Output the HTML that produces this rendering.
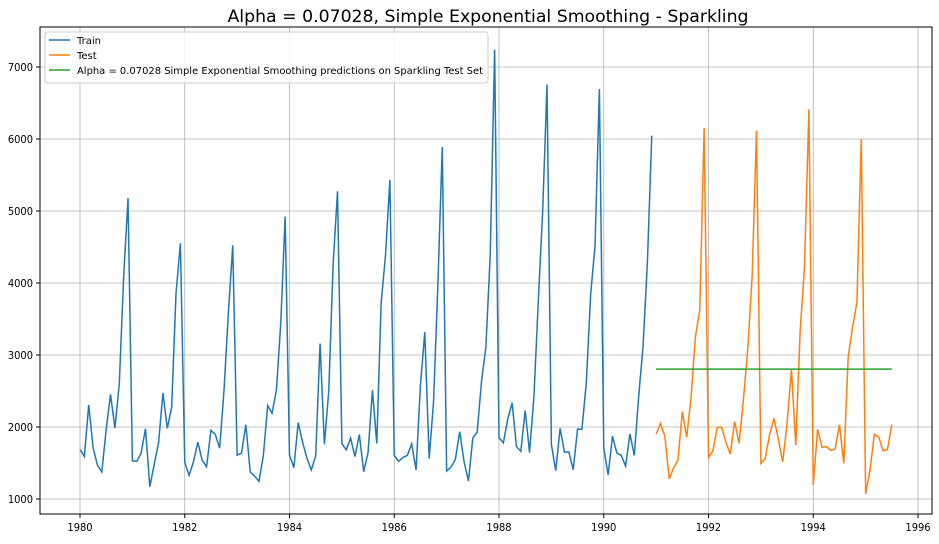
<!DOCTYPE html>
<html><head><meta charset="utf-8"><style>
body{margin:0;background:#fff;font-family:"DejaVu Sans","Liberation Sans",sans-serif;}
</style></head><body>
<svg id="chart" width="939" height="540" xmlns="http://www.w3.org/2000/svg" font-family="DejaVu Sans, Liberation Sans, sans-serif">
<rect width="939" height="540" fill="#fff"/>
<text x="488" y="22" font-size="17.3" text-anchor="middle">Alpha = 0.07028, Simple Exponential Smoothing - Sparkling</text>
<g id="grid"></g>
<g id="ticks" font-size="11" font-family="DejaVu Sans Condensed, DejaVu Sans, sans-serif"></g>
<g id="series" fill="none" stroke-width="1.5"></g>
<rect x="40" y="27" width="892" height="487" fill="none" stroke="#000" stroke-width="1"/>
<g>
<rect x="45" y="32" width="443" height="51" rx="3" fill="#fff" fill-opacity="0.85" stroke="#ccc"/>
<line x1="49" y1="40" x2="70" y2="40" stroke="#1f77b4" stroke-width="1.5"/>
<text x="77" y="44" font-size="10">Train</text>
<line x1="49" y1="55" x2="70" y2="55" stroke="#ff7f0e" stroke-width="1.5"/>
<text x="77" y="59" font-size="10">Test</text>
<line x1="49" y1="70" x2="70" y2="70" stroke="#2ca02c" stroke-width="1.5"/>
<text x="77" y="74" font-size="10" textLength="406" lengthAdjust="spacingAndGlyphs">Alpha = 0.07028 Simple Exponential Smoothing predictions on Sparkling Test Set</text>
</g>
</svg>
<script>
const trainValues=[1686,1591,2304,1712,1471,1377,1966,2453,1984,2596,4087,5179,
1530,1523,1633,1976,1170,1480,1781,2472,1981,2273,3857,4551,
1510,1329,1518,1790,1537,1449,1954,1897,1706,2514,3593,4524,
1609,1638,2030,1375,1320,1245,1600,2298,2191,2511,3440,4923,
1609,1435,2061,1789,1567,1404,1597,3159,1759,2504,4273,5274,
1771,1682,1846,1589,1896,1379,1645,2512,1771,3727,4388,5434,
1606,1523,1577,1605,1765,1403,2584,3318,1562,2349,3987,5891,
1389,1442,1548,1935,1518,1250,1847,1930,2638,3114,4405,7242,
1853,1779,2108,2336,1728,1661,2230,1645,2421,3740,4988,6757,
1757,1394,1982,1650,1654,1406,1971,1968,2608,3845,4514,6694,
1710,1333,1873,1641,1607,1457,1905,1605,2424,3116,4286,6047];
const testValues=[1902,2049,1874,1279,1432,1540,2214,1857,2408,3252,3627,6153,
1577,1667,1993,1997,1783,1625,2076,1773,2377,3088,4096,6119,
1494,1564,1898,2121,1831,1515,2048,2795,1749,3339,4227,6410,
1197,1968,1720,1725,1674,1693,2031,1495,2968,3385,3729,5999,
1070,1402,1897,1862,1670,1688,2031];
const predictionValue=2804;
const trainStart=1980, testStart=1991;
const xTicks=[1980,1982,1984,1986,1988,1990,1992,1994,1996];
const yTicks=[1000,2000,3000,4000,5000,6000,7000];
const NS="http://www.w3.org/2000/svg";
const X=v=>80+(v-1980)*(918-80)/16;
const Y=v=>499-(v-1000)*0.072;
function mk(t,a,p){const e=document.createElementNS(NS,t);for(const k in a)e.setAttribute(k,a[k]);p.appendChild(e);return e;}
const grid=document.getElementById('grid'),ticks=document.getElementById('ticks'),ser=document.getElementById('series');
xTicks.forEach(t=>{
 const l=mk('line',{x1:X(t),x2:X(t),y1:27,y2:514,stroke:'#b0b0b0','stroke-width':0.8},grid);
 
 
 mk('line',{x1:X(t),x2:X(t),y1:514,y2:518,stroke:'#000'},ticks);
 const tx=mk('text',{x:X(t),y:531,'text-anchor':'middle'},ticks);tx.textContent=t;
 
 
});
yTicks.forEach(t=>{
 const l=mk('line',{x1:40,x2:932,y1:Y(t),y2:Y(t),stroke:'#b0b0b0','stroke-width':0.8},grid);
 
 
 mk('line',{x1:36,x2:40,y1:Y(t),y2:Y(t),stroke:'#000'},ticks);
 const tx=mk('text',{x:33,y:Y(t)+4,'text-anchor':'end'},ticks);tx.textContent=t;
 
 
});
function line(vals,start,color,name){
 const d=vals.map((v,i)=>(i?'L':'M')+X(start+i/12).toFixed(2)+' '+Y(v).toFixed(2)).join(' ');
 const p=mk('path',{d:d,stroke:color},ser);
 
 
}
line(trainValues,trainStart,'#1f77b4','train-line');
line(testValues,testStart,'#ff7f0e','test-line');
line(testValues.map(()=>predictionValue),testStart,'#2ca02c','prediction-line');
</script>
</body></html>
